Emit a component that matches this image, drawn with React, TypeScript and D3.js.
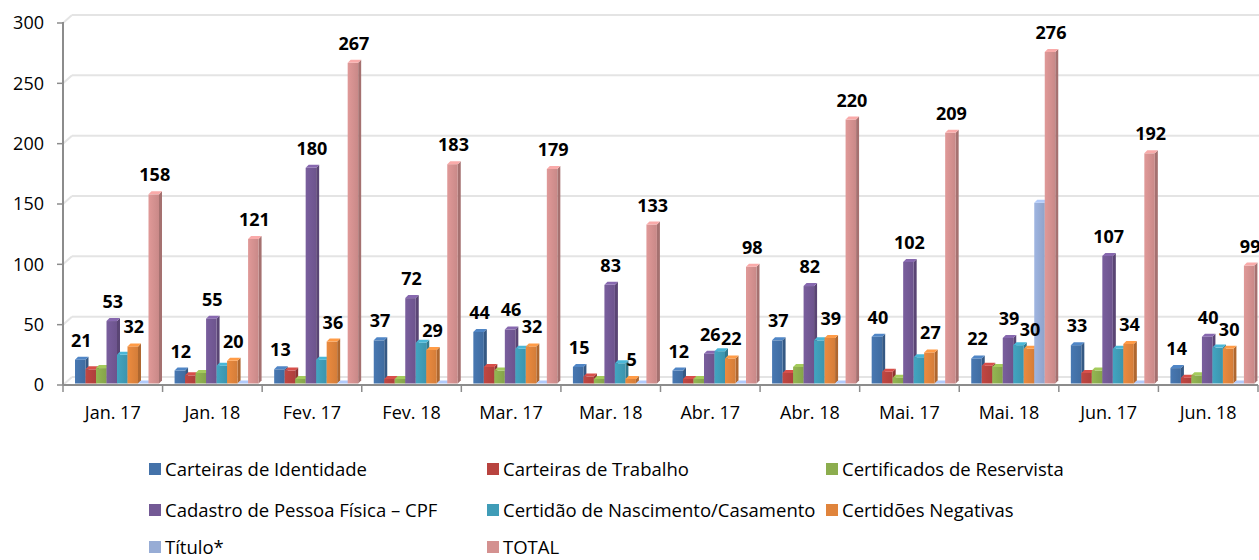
import React from 'react';
import * as d3 from 'd3';

const categories = ['Jan. 17', 'Jan. 18', 'Fev. 17', 'Fev. 18', 'Mar. 17', 'Mar. 18', 'Abr. 17', 'Abr. 18', 'Mai. 17', 'Mai. 18', 'Jun. 17', 'Jun. 18'];

const identidade = [21, 12, 13, 37, 44, 15, 12, 37, 40, 22, 33, 14];
const trabalho = [13, 8, 12, 5, 15, 7, 5, 10, 11, 16, 10, 6];
const reservista = [14, 10, 5, 5, 12, 5, 5, 15, 6, 15, 12, 8];
const cpf = [53, 55, 180, 72, 46, 83, 26, 82, 102, 39, 107, 40];
const certidao = [25, 16, 21, 35, 30, 18, 28, 37, 23, 33, 30, 31];
const negativas = [32, 20, 36, 29, 32, 5, 22, 39, 27, 30, 34, 30];
const titulo = [0, 0, 0, 0, 0, 0, 0, 0, 0, 151, 0, 0];
const total = [158, 121, 267, 183, 179, 133, 98, 220, 209, 276, 192, 99];

const seriesNames = [
  'Carteiras de Identidade',
  'Carteiras de Trabalho',
  'Certificados de Reservista',
  'Cadastro de Pessoa Física – CPF',
  'Certidão de Nascimento/Casamento',
  'Certidões Negativas',
  'Título*',
  'TOTAL',
];
const seriesValues = [identidade, trabalho, reservista, cpf, certidao, negativas, titulo, total];
const seriesColors = ['#4472a9', '#b8433f', '#8cad4e', '#735995', '#3f9cb7', '#e0843c', '#97acd5', '#d49190'];
// which series carry data labels
const labelled = [true, false, false, true, false, true, false, true];

const yTicks = [0, 50, 100, 150, 200, 250, 300];

const FONT = '"Open Sans", "Noto Sans", sans-serif';

export default function App() {
  const width = 1259;
  const height = 560;
  const left = 63;
  const right = 1258;
  const depth = 3;
  const wallDx = 9;
  const wallDy = 8;

  const y = d3.scaleLinear().domain([0, 300]).range([385, 23]);
  const x0 = d3.scaleBand<string>().domain(categories).range([left, right]).padding(0);
  const x1 = d3
    .scaleBand<number>()
    .domain(d3.range(seriesNames.length))
    .range([12, 96])
    .padding(0);
  const barW = x1.bandwidth();
  const bottom = y(0) - 1.5;

  const bars: React.ReactNode[] = [];
  const labels: React.ReactNode[] = [];

  categories.forEach((cat, ci) => {
    seriesValues.forEach((vals, si) => {
      const v = vals[ci];
      const bx = (x0(cat) as number) + (x1(si) as number);
      const top = Math.min(y(v), bottom);
      const base = d3.color(seriesColors[si]) as d3.RGBColor;
      const topC = base.brighter(0.45).formatHex();
      const sideC = base.darker(0.7).formatHex();
      bars.push(
        <g key={`b-${ci}-${si}`}>
          <polygon
            points={`${bx + barW},${top} ${bx + barW + depth},${top - depth} ${bx + barW + depth},${bottom - depth} ${bx + barW},${bottom}`}
            fill={sideC}
          />
          <rect x={bx} y={top} width={barW} height={bottom - top} fill={`url(#grad-${si})`} />
          <polygon
            points={`${bx},${top} ${bx + depth},${top - depth} ${bx + barW + depth},${top - depth} ${bx + barW},${top}`}
            fill={topC}
          />
        </g>
      );
      if (labelled[si]) {
        labels.push(
          <text
            key={`l-${ci}-${si}`}
            x={bx + barW / 2 + 1}
            y={y(v) - 13}
            textAnchor="middle"
            fontFamily={FONT}
            fontWeight="bold"
            fontSize={18}
            fill="#000"
          >
            {v}
          </text>
        );
      }
    });
  });

  return (
    <svg
      width={width}
      height={height}
      style={{ position: 'absolute', left: 0, top: 0, background: '#fff' }}
    >
      <defs>
        {seriesColors.map((c, i) => {
          const base = d3.color(c) as d3.RGBColor;
          return (
            <linearGradient key={i} id={`grad-${i}`} x1="0" x2="1" y1="0" y2="0">
              <stop offset="0%" stopColor={base.brighter(0.15).formatHex()} />
              <stop offset="100%" stopColor={base.darker(0.15).formatHex()} />
            </linearGradient>
          );
        })}
      </defs>

      {/* back wall gridlines */}
      {yTicks.map((t) => (
        <g key={`g-${t}`}>
          <line
            x1={left}
            x2={left + wallDx}
            y1={y(t)}
            y2={y(t) - wallDy}
            stroke="#e4e4e4"
            strokeWidth={2}
          />
          <line
            x1={left + wallDx}
            x2={width}
            y1={y(t) - wallDy}
            y2={y(t) - wallDy}
            stroke="#e4e4e4"
            strokeWidth={2}
          />
        </g>
      ))}

      {bars}

      {/* axes */}
      <line x1={left} x2={left} y1={y(300) - 1} y2={y(0)} stroke="#8c8c8c" strokeWidth={2} />
      <line x1={left} x2={right} y1={y(0)} y2={y(0)} stroke="#8c8c8c" strokeWidth={2} />
      {yTicks.map((t) => (
        <g key={`yt-${t}`}>
          <line x1={left - 6} x2={left} y1={y(t)} y2={y(t)} stroke="#8c8c8c" strokeWidth={1.5} />
          <text
            x={44}
            y={y(t)}
            dy="0.36em"
            textAnchor="end"
            fontFamily={FONT}
            fontSize={18}
            fill="#000"
          >
            {t}
          </text>
        </g>
      ))}
      {d3.range(categories.length + 1).map((i) => {
        const tx = left + i * x0.step();
        return (
          <line key={`xt-${i}`} x1={tx} x2={tx} y1={y(0)} y2={y(0) + 7} stroke="#8c8c8c" strokeWidth={1.5} />
        );
      })}
      {categories.map((c) => (
        <text
          key={`xl-${c}`}
          x={(x0(c) as number) + x0.bandwidth() / 2}
          y={413}
          dy="0.36em"
          textAnchor="middle"
          fontFamily={FONT}
          fontSize={18}
          fill="#000"
        >
          {c}
        </text>
      ))}

      {labels}

      {/* legend */}
      {seriesNames.map((name, i) => {
        const col = i % 3;
        const row = Math.floor(i / 3);
        const tx = [165, 503, 842][col];
        const cy = [469, 510, 547][row];
        return (
          <g key={`lg-${i}`}>
            <rect x={tx - 16} y={cy - 6} width={12} height={12} fill={seriesColors[i]} />
            <text x={tx} y={cy} dy="0.36em" fontFamily={FONT} fontSize={18.5} fill="#000">
              {name}
            </text>
          </g>
        );
      })}
    </svg>
  );
}
